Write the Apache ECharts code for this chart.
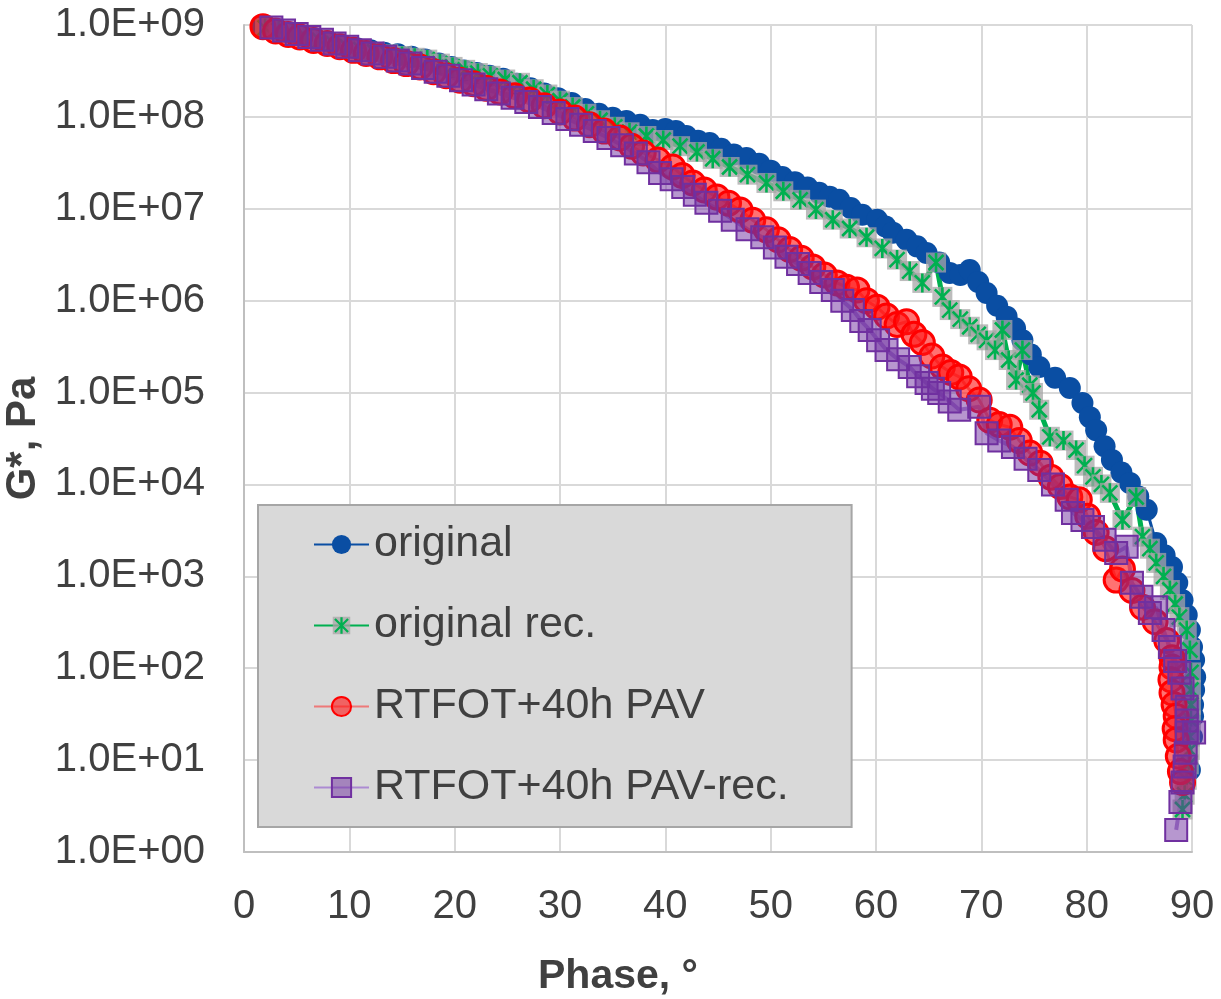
<!DOCTYPE html>
<html>
<head>
<meta charset="utf-8">
<script src="https://cdn.jsdelivr.net/npm/echarts@6/dist/echarts.min.js"></script>
<style>
  html, body { margin: 0; padding: 0; background: #fff; }
  #chart { width: 1221px; height: 999px; }
</style>
</head>
<body>
<div id="chart"></div>
<script>
// [phase °, G* Pa]
const original = [
  [1.7, 9.6e8], [2.9, 9.0e8], [4.2, 8.3e8], [5.5, 7.7e8], [6.8, 7.1e8], [8.1, 6.5e8], [9.4, 6.0e8],
  [10.7, 5.6e8], [12.0, 5.3e8], [13.3, 5.0e8], [14.6, 4.8e8], [15.9, 4.5e8], [17.2, 4.2e8], [18.5, 3.8e8],
  [19.7, 3.5e8], [20.9, 3.2e8], [22.1, 3.0e8], [23.3, 2.8e8], [24.6, 2.6e8], [25.9, 2.3e8], [27.2, 2.05e8],
  [28.5, 1.8e8], [29.8, 1.6e8], [31.1, 1.42e8], [32.4, 1.22e8], [33.7, 1.08e8], [35.0, 9.8e7], [36.3, 9.0e7],
  [37.6, 8.2e7], [38.8, 7.2e7], [40.0, 7.4e7], [41.0, 7.0e7], [42.0, 6.2e7], [43.1, 5.5e7], [44.2, 5.2e7],
  [45.3, 4.5e7], [46.5, 3.9e7], [47.7, 3.57e7], [48.9, 3.1e7], [50.0, 2.6e7], [51.1, 2.22e7], [52.3, 1.95e7],
  [53.5, 1.7e7], [54.6, 1.49e7], [55.6, 1.35e7], [56.5, 1.25e7], [57.6, 1.02e7], [58.7, 8.6e6], [60.1, 7.6e6],
  [60.9, 6.4e6], [61.6, 5.5e6], [62.9, 4.6e6], [63.9, 3.9e6], [64.8, 3.3e6], [66.0, 2.6e6], [67.0, 2.0e6],
  [68.0, 1.9e6], [68.9, 2.16e6], [69.7, 1.6e6], [70.5, 1.21e6], [71.5, 8.8e5], [72.4, 6.7e5], [73.2, 5.0e5],
  [73.9, 3.7e5], [74.7, 2.6e5], [75.5, 1.9e5], [77.0, 1.45e5], [78.4, 1.12e5], [79.6, 7.7e4], [80.3, 5.4e4],
  [80.9, 3.9e4], [81.7, 2.6e4], [82.4, 1.85e4], [83.3, 1.35e4], [84.1, 1.04e4], [84.9, 7.4e3], [85.7, 5.3e3],
  [86.6, 2.3e3], [87.4, 1.7e3], [88.1, 1.26e3], [88.6, 850], [89.1, 550], [89.5, 380], [89.8, 260],
  [90.0, 170], [90.2, 123], [90.3, 80], [90.2, 58], [90.1, 40], [90.1, 30], [90.0, 18], [89.8, 7.8]
];

const originalRec = [
  [2.0, 9.3e8], [3.3, 8.7e8], [4.6, 8.0e8], [5.9, 7.4e8], [7.2, 6.8e8], [8.5, 6.3e8], [9.8, 5.8e8],
  [11.1, 5.4e8], [12.4, 5.1e8], [13.7, 4.8e8], [15.0, 4.6e8], [16.2, 4.4e8], [17.4, 4.2e8], [18.6, 3.8e8],
  [19.8, 3.5e8], [21.0, 3.25e8], [22.2, 3.0e8], [23.4, 2.8e8], [24.8, 2.55e8], [26.2, 2.35e8], [27.5, 2.0e8],
  [28.8, 1.75e8], [30.0, 1.5e8], [31.2, 1.28e8], [32.5, 1.08e8], [33.8, 9.2e7], [35.2, 7.8e7], [36.6, 6.8e7],
  [38.2, 6.2e7], [39.8, 5.6e7], [41.4, 4.8e7], [43.0, 4.15e7], [44.5, 3.5e7], [46.1, 2.85e7], [47.8, 2.35e7],
  [49.6, 1.91e7], [51.2, 1.55e7], [52.8, 1.25e7], [54.3, 9.8e6], [55.9, 7.6e6], [57.5, 6.1e6], [59.1, 4.9e6],
  [60.6, 3.7e6], [62.0, 2.8e6], [63.2, 2.1e6], [64.4, 1.56e6], [65.7, 2.6e6], [66.3, 1.1e6], [67.0, 7.9e5],
  [68.0, 6.3e5], [68.9, 5.2e5], [69.7, 4.3e5], [70.5, 3.7e5], [71.3, 2.9e5], [72.0, 4.8e5], [72.6, 2.26e5],
  [73.3, 1.37e5], [73.9, 2.9e5], [74.6, 1.2e5], [74.9, 9.9e4], [75.5, 6.5e4], [76.5, 3.3e4], [77.8, 3.0e4],
  [79.0, 2.37e4], [79.8, 1.6e4], [80.6, 1.21e4], [81.4, 1.0e4], [82.2, 8.1e3], [83.4, 4.1e3], [84.7, 7.3e3],
  [85.3, 2.7e3], [86.0, 2.0e3], [86.6, 1.4e3], [87.3, 1.0e3], [87.9, 710], [88.4, 500], [88.8, 360],
  [89.5, 260], [89.8, 158], [89.9, 90], [89.9, 58], [89.9, 40], [89.9, 27], [89.8, 18], [89.8, 12.9],
  [89.7, 9], [89.5, 6.1], [89.3, 4.2], [89.1, 2.9]
];

const rtfotPav = [
  [1.8, 9.6e8], [3.0, 8.6e8], [4.2, 7.9e8], [5.3, 7.4e8], [6.6, 6.8e8], [7.9, 6.3e8], [9.1, 5.8e8],
  [10.4, 5.3e8], [11.6, 4.9e8], [12.9, 4.5e8], [14.2, 4.1e8], [15.4, 3.8e8], [16.7, 3.5e8], [18.0, 3.1e8],
  [19.2, 2.8e8], [20.5, 2.5e8], [21.8, 2.3e8], [23.0, 2.05e8], [24.3, 1.87e8], [25.7, 1.7e8], [27.1, 1.53e8],
  [28.5, 1.32e8], [30.0, 1.13e8], [31.4, 9.7e7], [32.8, 8.2e7], [34.2, 7.0e7], [35.7, 5.9e7], [36.8, 4.8e7],
  [37.9, 4.05e7], [39.3, 3.4e7], [40.7, 2.85e7], [41.6, 2.3e7], [42.6, 1.91e7], [43.7, 1.6e7], [44.9, 1.34e7],
  [46.0, 1.15e7], [47.1, 9.7e6], [48.3, 7.5e6], [49.6, 5.9e6], [50.7, 4.6e6], [51.8, 3.6e6], [52.9, 2.9e6],
  [54.0, 2.33e6], [55.1, 1.9e6], [56.3, 1.56e6], [57.2, 1.4e6], [58.2, 1.31e6], [59.1, 1.0e6], [60.1, 8.5e5],
  [61.0, 6.8e5], [62.0, 5.5e5], [62.9, 5.9e5], [63.6, 4.3e5], [64.4, 3.5e5], [65.3, 2.5e5], [66.3, 1.9e5],
  [67.1, 1.65e5], [67.9, 1.48e5], [68.8, 1.1e5], [69.8, 8.3e4], [70.8, 5.0e4], [71.7, 4.5e4], [72.7, 4.2e4],
  [73.6, 3.0e4], [74.6, 2.2e4], [75.6, 1.7e4], [76.6, 1.2e4], [77.5, 9.5e3], [78.4, 7.3e3], [79.3, 6.8e3],
  [80.1, 4.5e3], [80.9, 3.0e3], [81.8, 2.0e3], [82.8, 910], [83.4, 1.2e3], [84.3, 700], [85.3, 460],
  [86.5, 320], [87.6, 200], [88.1, 130], [88.1, 103], [88.0, 75], [88.1, 54], [88.3, 40], [88.5, 30],
  [88.4, 22], [88.5, 16.6], [88.7, 11], [88.9, 7.5], [89.1, 5.7]
];

const rtfotPavRec = [
  [2.6, 9.4e8], [3.8, 8.7e8], [5.0, 8.0e8], [6.2, 7.4e8], [7.4, 6.9e8], [8.6, 6.3e8], [9.8, 5.8e8],
  [11.0, 5.3e8], [12.2, 4.9e8], [13.4, 4.5e8], [14.6, 4.1e8], [15.8, 3.8e8], [17.0, 3.4e8], [18.2, 3.1e8],
  [19.4, 2.8e8], [20.6, 2.5e8], [21.8, 2.25e8], [23.0, 2.0e8], [24.2, 1.8e8], [25.5, 1.62e8], [26.8, 1.45e8],
  [28.1, 1.28e8], [29.4, 1.1e8], [30.7, 9.5e7], [32.0, 8.2e7], [33.3, 7.0e7], [34.6, 5.9e7], [35.9, 4.9e7],
  [37.2, 4.0e7], [38.4, 3.2e7], [39.5, 2.45e7], [40.6, 2.1e7], [41.7, 1.73e7], [42.8, 1.42e7], [43.9, 1.16e7],
  [45.2, 9.5e6], [46.4, 7.6e6], [47.8, 6.0e6], [49.2, 4.9e6], [50.4, 3.8e6], [51.5, 3.0e6], [52.6, 2.5e6],
  [53.7, 2.0e6], [54.8, 1.6e6], [55.9, 1.31e6], [56.8, 1.0e6], [57.8, 7.9e5], [58.6, 6.0e5], [59.4, 4.8e5],
  [60.2, 3.7e5], [61.0, 2.9e5], [62.1, 2.3e5], [63.2, 1.9e5], [64.0, 1.5e5], [64.8, 1.27e5], [65.4, 1.1e5],
  [66.0, 9.9e4], [67.0, 8.0e4], [67.9, 6.5e4], [69.8, 7.0e4], [70.5, 3.6e4], [71.7, 3.0e4], [73.0, 2.56e4],
  [74.2, 1.9e4], [75.5, 1.44e4], [76.8, 1.0e4], [78.1, 6.8e3], [78.7, 4.9e3], [79.6, 4.1e3], [80.6, 3.45e3],
  [81.7, 2.5e3], [82.8, 1.8e3], [83.8, 2.1e3], [84.3, 850], [85.2, 600], [86.0, 400], [86.6, 460],
  [87.3, 260], [87.9, 170], [88.4, 120], [88.8, 89], [89.1, 60], [89.5, 38], [89.5, 27], [89.5, 20],
  [90.2, 20], [89.4, 12], [89.3, 8.5], [89.1, 5.7], [88.9, 3.5], [88.5, 1.74]
];

const seriesNames = ['original', 'original rec.', 'RTFOT+40h PAV', 'RTFOT+40h PAV-rec.'];
const xTicks = { min: 0, max: 90, step: 10 };
const yDecades = { min: 1, max: 1e9 };

const textColor = '#404040';
const fontFamily = '"Liberation Sans", Arial, sans-serif';

// grey square with green asterisk, like the Excel star marker
const starSvg = "<svg xmlns='http://www.w3.org/2000/svg' width='22' height='22'>" +
  "<rect x='1' y='1' width='20' height='20' fill='#a6a6a6' fill-opacity='0.75'/>" +
  "<path d='M3.5 3.5L18.5 18.5M18.5 3.5L3.5 18.5M11 1.5V20.5' stroke='#00b050' stroke-width='2.6' fill='none'/></svg>";
const starSymbol = 'image://data:image/svg+xml;charset=utf-8,' + encodeURIComponent(starSvg);

const chart = echarts.init(document.getElementById('chart'), null, { renderer: 'canvas' });

chart.setOption({
  animation: false,
  textStyle: { fontFamily: fontFamily, color: textColor },
  grid: { left: 244, right: 29, top: 25, bottom: 147, containLabel: false, outerBoundsMode: 'none' },
  legend: {
    orient: 'vertical',
    left: 258,
    top: 505,
    data: seriesNames,
    backgroundColor: '#d9d9d9',
    borderColor: '#a6a6a6',
    borderWidth: 2,
    padding: [18, 63, 18, 55],
    itemWidth: 55,
    itemHeight: 24,
    itemGap: 38,
    textStyle: { fontSize: 43, color: textColor, fontFamily: fontFamily },
    selectedMode: false
  },
  xAxis: {
    type: 'value',
    min: xTicks.min,
    max: xTicks.max,
    interval: xTicks.step,
    name: 'Phase, °',
    nameLocation: 'middle',
    nameGap: 104,
    nameTextStyle: { fontSize: 41, fontWeight: 'bold', color: textColor, padding: [0, 200, 0, 0] },
    axisLine: { show: true, lineStyle: { color: '#bfbfbf', width: 2 } },
    axisTick: { show: false },
    axisLabel: { fontSize: 40, color: textColor, margin: 35 },
    splitLine: { show: true, lineStyle: { color: '#d9d9d9', width: 2 } }
  },
  yAxis: {
    type: 'log',
    logBase: 10,
    min: yDecades.min,
    max: yDecades.max,
    splitNumber: 9,
    name: 'G*, Pa',
    nameLocation: 'middle',
    nameGap: 187,
    nameTextStyle: { fontSize: 42, fontWeight: 'bold', color: textColor },
    axisLine: { show: true, lineStyle: { color: '#bfbfbf', width: 2 } },
    axisTick: { show: false },
    axisLabel: {
      fontSize: 40,
      color: textColor,
      margin: 39,
      formatter: function (v) {
        const e = Math.round(Math.log10(v));
        return '1.0E+' + (e < 10 ? '0' : '') + e;
      }
    },
    splitLine: { show: true, lineStyle: { color: '#d9d9d9', width: 2 } }
  },
  series: [
    {
      name: seriesNames[0],
      type: 'line',
      data: original,
      clip: false,
      symbol: 'circle',
      symbolSize: 22,
      itemStyle: { color: '#0a4ea3' },
      lineStyle: { color: '#0a4ea3', width: 3 }
    },
    {
      name: seriesNames[1],
      type: 'line',
      data: originalRec,
      clip: false,
      symbol: starSymbol,
      symbolSize: 22,
      itemStyle: { color: '#00b050' },
      lineStyle: { color: '#00b050', width: 5 }
    },
    {
      name: seriesNames[2],
      type: 'line',
      data: rtfotPav,
      clip: false,
      symbol: 'circle',
      symbolSize: 24,
      itemStyle: { color: 'rgba(255,20,20,0.6)', borderColor: '#ff0000', borderWidth: 3 },
      lineStyle: { color: 'rgba(240,110,110,0.9)', width: 3 }
    },
    {
      name: seriesNames[3],
      type: 'line',
      data: rtfotPavRec,
      clip: false,
      symbol: 'rect',
      symbolSize: 22,
      itemStyle: { color: 'rgba(112,48,160,0.5)', borderColor: '#7030a0', borderWidth: 2 },
      lineStyle: { color: 'rgba(170,135,210,0.95)', width: 4 }
    }
  ]
});
</script>
</body>
</html>
